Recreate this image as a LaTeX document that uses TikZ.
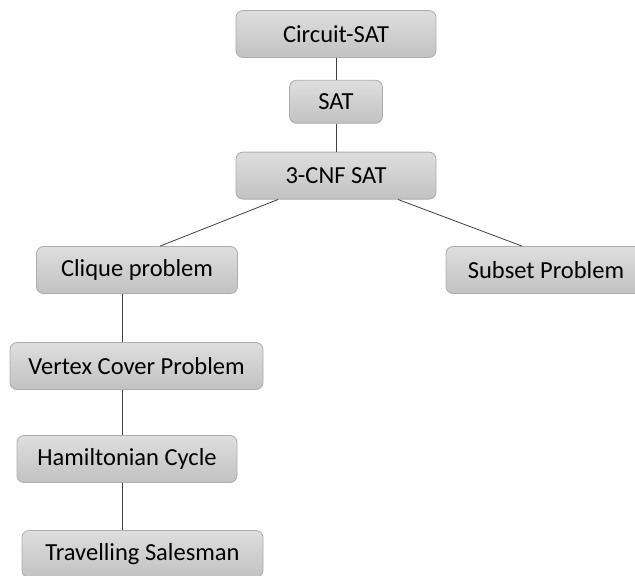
\documentclass[tikz,border=0pt]{standalone}
\usepackage{fontspec}
\setmainfont{Carlito}
\usetikzlibrary{positioning,calc}
\definecolor{boxtop}{HTML}{DEDEDE}
\definecolor{boxbottom}{HTML}{C2C2C2}
\definecolor{boxedge}{HTML}{ACACAC}
\definecolor{ink}{HTML}{404040}

\begin{document}
\begin{tikzpicture}[
  x=1pt, y=1pt,
  font=\fontsize{24.5}{28}\selectfont,
  box/.style={draw=boxedge, rounded corners=7pt, line width=0.8pt,
    top color=boxtop, bottom color=boxbottom, text=black,
    minimum height=47pt, inner sep=0pt},
  link/.style={draw=ink, line width=0.8pt}
]
\clip (0,0) rectangle (635,-576);

% SAT chain
\node[box, minimum width=200pt] (circuit) at (336,-34) {Circuit-SAT};
\node[box, minimum width=93pt, minimum height=43pt, below=22pt of circuit] (sat) {SAT};
\node[box, minimum width=200pt, below=28pt of sat] (cnf) {3-CNF SAT};

% reductions from 3-CNF SAT
\node[box, minimum width=201pt] (clique) at (137,-270) {Clique problem};
\node[box, minimum width=200pt] (subset) at (546,-270) {Subset Problem};
\node[box, minimum width=253pt] (vertex) at (136.5,-366) {Vertex Cover Problem};
\node[box, minimum width=220pt] (hamilton) at (127,-459) {Hamiltonian Cycle};
\node[box, minimum width=241pt] (salesman) at (142.5,-554) {Travelling Salesman};

\coordinate (spine) at (122,0);

\draw[link] (circuit) -- (sat);
\draw[link] (sat) -- (cnf);
\draw[link] ([xshift=-58pt]cnf.south) -- ([xshift=23pt]clique.north);
\draw[link] ([xshift=62pt]cnf.south) -- ([xshift=-24pt]subset.north);
\draw[link] (clique.south -| spine) -- (vertex.north -| spine);
\draw[link] (vertex.south -| spine) -- (hamilton.north -| spine);
\draw[link] (hamilton.south -| spine) -- (salesman.north -| spine);

\end{tikzpicture}
\end{document}
